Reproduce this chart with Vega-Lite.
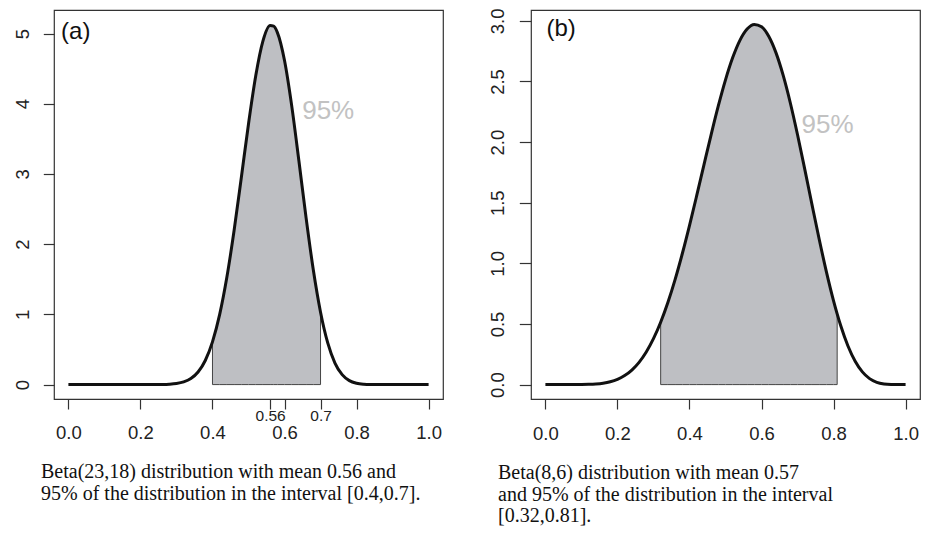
{
  "$schema": "https://vega.github.io/schema/vega-lite/v6.json",
  "background": "white",
  "padding": {"left": 12, "top": 7, "right": 5, "bottom": 5},
  "config": {
    "view": {"stroke": "#333333", "strokeWidth": 1.2},
    "axis": {"grid": false, "domain": false, "ticks": true, "tickColor": "#333333", "tickWidth": 1.2, "labelFont": "Liberation Sans", "labelColor": "#222222", "labelFontSize": 18.5, "labelOverlap": false, "labelFlush": false},
    "text": {"font": "Liberation Sans"}
  },
  "datasets": {
    "a": [
      {"x": 0, "d": 0}, {"x": 0.1, "d": 0}, {"x": 0.2, "d": 0.00002}, {"x": 0.22, "d": 0.0001},
      {"x": 0.24, "d": 0.00045}, {"x": 0.26, "d": 0.0016}, {"x": 0.28, "d": 0.0053}, {"x": 0.3, "d": 0.0149},
      {"x": 0.32, "d": 0.0377}, {"x": 0.34, "d": 0.086}, {"x": 0.36, "d": 0.179}, {"x": 0.38, "d": 0.343},
      {"x": 0.4, "d": 0.608}, {"x": 0.42, "d": 0.999}, {"x": 0.44, "d": 1.531}, {"x": 0.46, "d": 2.194},
      {"x": 0.48, "d": 2.946}, {"x": 0.5, "d": 3.712}, {"x": 0.52, "d": 4.395}, {"x": 0.54, "d": 4.891},
      {"x": 0.56, "d": 5.113}, {"x": 0.57, "d": 5.105}, {"x": 0.58, "d": 5.017}, {"x": 0.6, "d": 4.615}, {"x": 0.62, "d": 3.969},
      {"x": 0.64, "d": 3.184}, {"x": 0.66, "d": 2.371}, {"x": 0.68, "d": 1.631}, {"x": 0.7, "d": 1.031},
      {"x": 0.72, "d": 0.593}, {"x": 0.74, "d": 0.307}, {"x": 0.76, "d": 0.142}, {"x": 0.78, "d": 0.057},
      {"x": 0.8, "d": 0.0197}, {"x": 0.82, "d": 0.0057}, {"x": 0.84, "d": 0.0013}, {"x": 0.86, "d": 0.0002},
      {"x": 0.88, "d": 0}, {"x": 0.9, "d": 0}, {"x": 1, "d": 0}
    ],
    "b": [
      {"x": 0, "d": 0}, {"x": 0.02, "d": 0}, {"x": 0.04, "d": 0.0000014}, {"x": 0.06, "d": 0.00002},
      {"x": 0.08, "d": 0.00014}, {"x": 0.1, "d": 0.00061}, {"x": 0.12, "d": 0.00195}, {"x": 0.14, "d": 0.0051},
      {"x": 0.16, "d": 0.01157}, {"x": 0.18, "d": 0.02337}, {"x": 0.2, "d": 0.04317}, {"x": 0.22, "d": 0.07414},
      {"x": 0.24, "d": 0.1197}, {"x": 0.26, "d": 0.1835}, {"x": 0.28, "d": 0.2688}, {"x": 0.3, "d": 0.3785},
      {"x": 0.32, "d": 0.5143}, {"x": 0.34, "d": 0.6773}, {"x": 0.36, "d": 0.8663}, {"x": 0.38, "d": 1.0792},
      {"x": 0.4, "d": 1.3117}, {"x": 0.42, "d": 1.5579}, {"x": 0.44, "d": 1.8103}, {"x": 0.46, "d": 2.0603},
      {"x": 0.48, "d": 2.2982}, {"x": 0.5, "d": 2.5137}, {"x": 0.52, "d": 2.6972}, {"x": 0.54, "d": 2.8394},
      {"x": 0.56, "d": 2.9326}, {"x": 0.58, "d": 2.9711}, {"x": 0.6, "d": 2.9514}, {"x": 0.62, "d": 2.873},
      {"x": 0.64, "d": 2.7381}, {"x": 0.66, "d": 2.552}, {"x": 0.68, "d": 2.3227}, {"x": 0.7, "d": 2.0604},
      {"x": 0.72, "d": 1.7773}, {"x": 0.74, "d": 1.4865}, {"x": 0.76, "d": 1.2007}, {"x": 0.78, "d": 0.9321},
      {"x": 0.8, "d": 0.691}, {"x": 0.81, "d": 0.5832}, {"x": 0.82, "d": 0.485}, {"x": 0.84, "d": 0.3186},
      {"x": 0.86, "d": 0.1927}, {"x": 0.88, "d": 0.1047}, {"x": 0.9, "d": 0.0493}, {"x": 0.92, "d": 0.0188},
      {"x": 0.94, "d": 0.0052}, {"x": 0.96, "d": 0.0008}, {"x": 0.98, "d": 0.00003}, {"x": 1, "d": 0}
    ]
  },
  "bounds": "flush",
  "spacing": 88,
  "hconcat": [
    {
      "width": 389,
      "height": 389,
      "title": {
        "text": ["Beta(23,18) distribution with mean 0.56 and", "95% of the distribution in the interval [0.4,0.7]."],
        "orient": "bottom", "anchor": "start", "frame": "group", "dx": -13, "offset": 20,
        "font": "Liberation Serif", "fontSize": 20, "fontWeight": "normal", "lineHeight": 22, "color": "#111111"
      },
      "data": {"name": "a"},
      "layer": [
        {
          "transform": [{"filter": "datum.x >= 0.4 && datum.x <= 0.7"}],
          "mark": {"type": "area", "color": "#bebfc3", "stroke": "#444444", "strokeWidth": 1, "interpolate": "monotone"},
          "encoding": {
            "x": {
              "field": "x", "type": "quantitative", "title": null,
              "scale": {"domain": [-0.04, 1.04], "nice": false, "zero": false},
              "axis": {
                "values": [0, 0.2, 0.4, 0.56, 0.6, 0.7, 0.8, 1],
                "labelExpr": "datum.value == 0.56 ? '0.56' : format(datum.value, '.1f')",
                "tickSize": 10,
                "labelBaseline": "middle",
                "labelFontSize": {"condition": {"test": "datum.value == 0.56 || datum.value == 0.7", "value": 15.5}, "value": 18.5},
                "labelPadding": {"condition": {"test": "datum.value == 0.56 || datum.value == 0.7", "value": 6.5}, "value": 23}
              }
            },
            "y": {
              "field": "d", "type": "quantitative", "title": null,
              "scale": {"domain": [-0.2052, 5.3348], "nice": false, "zero": false},
              "axis": {
                "values": [0, 1, 2, 3, 4, 5], "format": "d",
                "tickSize": 10.7, "labelPadding": 21,
                "labelAngle": 270, "labelAlign": "center", "labelBaseline": "middle"
              }
            },
            "y2": {"datum": 0}
          }
        },
        {
          "mark": {"type": "line", "color": "#111111", "strokeWidth": 3, "interpolate": "monotone"},
          "encoding": {
            "x": {"field": "x", "type": "quantitative", "title": null},
            "y": {"field": "d", "type": "quantitative", "title": null}
          }
        },
        {
          "data": {"values": [{"x": -0.0203, "d": 5.019, "label": "(a)"}]},
          "mark": {"type": "text", "align": "left", "baseline": "middle", "fontSize": 24, "color": "#111111"},
          "encoding": {
            "x": {"field": "x", "type": "quantitative", "title": null},
            "y": {"field": "d", "type": "quantitative", "title": null},
            "text": {"field": "label"}
          }
        },
        {
          "data": {"values": [{"x": 0.649, "d": 3.895, "label": "95%"}]},
          "mark": {"type": "text", "align": "left", "baseline": "middle", "fontSize": 26, "color": "#c2c2c2"},
          "encoding": {
            "x": {"field": "x", "type": "quantitative", "title": null},
            "y": {"field": "d", "type": "quantitative", "title": null},
            "text": {"field": "label"}
          }
        }
      ]
    },
    {
      "width": 389,
      "height": 389,
      "title": {
        "text": ["Beta(8,6) distribution with mean 0.57", "and 95% of the distribution in the interval", "[0.32,0.81]."],
        "orient": "bottom", "anchor": "start", "frame": "group", "dx": -33, "offset": 20,
        "font": "Liberation Serif", "fontSize": 20, "fontWeight": "normal", "lineHeight": 21.5, "color": "#111111"
      },
      "data": {"name": "b"},
      "layer": [
        {
          "transform": [{"filter": "datum.x >= 0.32 && datum.x <= 0.81"}],
          "mark": {"type": "area", "color": "#bebfc3", "stroke": "#444444", "strokeWidth": 1, "interpolate": "monotone"},
          "encoding": {
            "x": {
              "field": "x", "type": "quantitative", "title": null,
              "scale": {"domain": [-0.04, 1.04], "nice": false, "zero": false},
              "axis": {
                "values": [0, 0.2, 0.4, 0.6, 0.8, 1], "format": ".1f",
                "tickSize": 10, "labelBaseline": "middle", "labelPadding": 24.5
              }
            },
            "y": {
              "field": "d", "type": "quantitative", "title": null,
              "scale": {"domain": [-0.1188, 3.0897], "nice": false, "zero": false},
              "axis": {
                "values": [0, 0.5, 1, 1.5, 2, 2.5, 3], "format": ".1f",
                "tickSize": 11.7, "labelPadding": 21.5,
                "labelAngle": 270, "labelAlign": "center", "labelBaseline": "middle"
              }
            },
            "y2": {"datum": 0}
          }
        },
        {
          "mark": {"type": "line", "color": "#111111", "strokeWidth": 3, "interpolate": "monotone"},
          "encoding": {
            "x": {"field": "x", "type": "quantitative", "title": null},
            "y": {"field": "d", "type": "quantitative", "title": null}
          }
        },
        {
          "data": {"values": [{"x": 0.0028, "d": 2.931, "label": "(b)"}]},
          "mark": {"type": "text", "align": "left", "baseline": "middle", "fontSize": 24, "color": "#111111"},
          "encoding": {
            "x": {"field": "x", "type": "quantitative", "title": null},
            "y": {"field": "d", "type": "quantitative", "title": null},
            "text": {"field": "label"}
          }
        },
        {
          "data": {"values": [{"x": 0.711, "d": 2.141, "label": "95%"}]},
          "mark": {"type": "text", "align": "left", "baseline": "middle", "fontSize": 26, "color": "#c2c2c2"},
          "encoding": {
            "x": {"field": "x", "type": "quantitative", "title": null},
            "y": {"field": "d", "type": "quantitative", "title": null},
            "text": {"field": "label"}
          }
        }
      ]
    }
  ]
}
